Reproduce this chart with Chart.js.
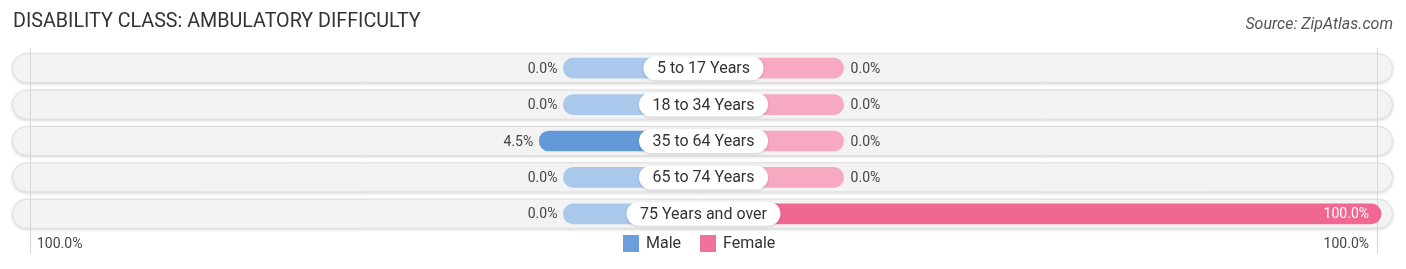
<!DOCTYPE html>
<html>
<head>
<meta charset="utf-8">
<title>Disability Class: Ambulatory Difficulty</title>
<script src="https://cdn.jsdelivr.net/npm/chart.js@4"></script>
<style>
    html, body { margin: 0; padding: 0; background: #fff; }
    #chart { display: block; }
</style>
</head>
<body>
<canvas id="chart" width="1406" height="269"></canvas>
<script>
const categories = ['5 to 17 Years', '18 to 34 Years', '35 to 64 Years', '65 to 74 Years', '75 Years and over'];
const maleValues = [0.0, 0.0, 4.5, 0.0, 0.0];
const femaleValues = [0.0, 0.0, 0.0, 0.0, 100.0];
const axisTicks = [-100, 100];
const axisTickLabels = ['100.0%', '100.0%'];

// bars always show a short stub, then grow with the value
const STUB = 20.8;
const GROW = (100.6 - STUB) / 100;

const COLORS = {
    maleLight: '#a9c8ec',
    maleDark: '#6399d8',
    femaleLight: '#f6a9c1',
    femaleDark: '#f06792',
    text: '#444',
    title: '#333'
};

const FONT = 'Roboto, "Open Sans", sans-serif';

function roundRect(ctx, x, y, w, h, r) {
    ctx.beginPath();
    ctx.moveTo(x + r, y);
    ctx.lineTo(x + w - r, y);
    ctx.arc(x + w - r, y + r, r, -Math.PI / 2, Math.PI / 2);
    ctx.lineTo(x + r, y + h);
    ctx.arc(x + r, y + r, r, Math.PI / 2, Math.PI * 1.5);
    ctx.closePath();
}

// Row backgrounds and the two axis lines at +-100%
const backgroundPlugin = {
    id: 'rowBackground',
    beforeDatasetsDraw(chart) {
        const { ctx, scales: { x, y } } = chart;
        ctx.save();
        categories.forEach((c, i) => {
            const cy = y.getPixelForValue(i);
            ctx.save();
            ctx.shadowColor = 'rgba(0,0,0,0.18)';
            ctx.shadowBlur = 3;
            ctx.shadowOffsetY = 1;
            roundRect(ctx, 12, cy - 15, 1381, 30, 15);
            ctx.fillStyle = '#f3f3f3';
            ctx.fill();
            ctx.restore();
            roundRect(ctx, 12.5, cy - 14.5, 1380, 29, 14.5);
            ctx.strokeStyle = '#dedede';
            ctx.lineWidth = 1;
            ctx.stroke();
        });
        ctx.strokeStyle = '#d6d6d6';
        ctx.lineWidth = 1;
        axisTicks.forEach(t => {
            const px = Math.round(x.getPixelForValue(t)) + 0.5;
            ctx.beginPath();
            ctx.moveTo(px, 48);
            ctx.lineTo(px, 253);
            ctx.stroke();
        });
        ctx.restore();
    }
};

// Category pills, value labels, axis labels, legend, title
const labelPlugin = {
    id: 'labels',
    afterDatasetsDraw(chart) {
        const { ctx, scales: { x, y } } = chart;
        const center = x.getPixelForValue(0);
        ctx.save();
        ctx.textBaseline = 'middle';

        categories.forEach((c, i) => {
            const cy = y.getPixelForValue(i);

            // male value
            const mEnd = x.getPixelForValue(-(STUB + maleValues[i] * GROW));
            ctx.font = '14px ' + FONT;
            ctx.fillStyle = COLORS.text;
            ctx.textAlign = 'right';
            ctx.fillText(maleValues[i].toFixed(1) + '%', mEnd - 6, cy + 1);

            // female value
            const fEnd = x.getPixelForValue(STUB + femaleValues[i] * GROW);
            if (femaleValues[i] > 50) {
                ctx.fillStyle = '#fff';
                ctx.textAlign = 'right';
                ctx.fillText(femaleValues[i].toFixed(1) + '%', fEnd - 12, cy + 1);
            } else {
                ctx.fillStyle = COLORS.text;
                ctx.textAlign = 'left';
                ctx.fillText(femaleValues[i].toFixed(1) + '%', fEnd + 7, cy + 1);
            }

            // category pill
            ctx.font = '16px ' + FONT;
            const tw = ctx.measureText(c).width;
            const pw = tw + 27;
            ctx.save();
            ctx.shadowColor = 'rgba(0,0,0,0.15)';
            ctx.shadowBlur = 3;
            ctx.shadowOffsetY = 1;
            roundRect(ctx, center - pw / 2, cy - 12, pw, 24, 12);
            ctx.fillStyle = '#fff';
            ctx.fill();
            ctx.restore();
            ctx.fillStyle = COLORS.title;
            ctx.textAlign = 'center';
            ctx.fillText(c, center, cy + 1);
        });

        // bottom axis labels
        ctx.font = '14px ' + FONT;
        ctx.fillStyle = COLORS.text;
        ctx.textAlign = 'left';
        ctx.fillText(axisTickLabels[0], x.getPixelForValue(axisTicks[0]) + 7, 244);
        ctx.textAlign = 'right';
        ctx.fillText(axisTickLabels[1], x.getPixelForValue(axisTicks[1]) - 8, 244);

        // legend
        const legend = [
            { label: 'Male', color: '#6a9fdc', x: 623 },
            { label: 'Female', color: '#f0729a', x: 700 }
        ];
        ctx.font = '16px ' + FONT;
        legend.forEach(l => {
            ctx.fillStyle = l.color;
            ctx.fillRect(l.x, 235, 16, 17);
            ctx.fillStyle = COLORS.title;
            ctx.textAlign = 'left';
            ctx.fillText(l.label, l.x + 23, 244);
        });

        // title and source
        ctx.font = '19.7px ' + FONT;
        ctx.fillStyle = COLORS.title;
        ctx.textAlign = 'left';
        ctx.fillText('DISABILITY CLASS: AMBULATORY DIFFICULTY', 13, 22);
        ctx.font = 'italic 16px ' + FONT;
        ctx.fillStyle = '#555';
        ctx.textAlign = 'right';
        ctx.fillText('Source: ZipAtlas.com', 1393, 25);

        ctx.restore();
    }
};

new Chart(document.getElementById('chart'), {
    type: 'bar',
    data: {
        labels: categories,
        datasets: [
            {
                label: 'Male',
                data: maleValues.map(v => [-(STUB + v * GROW), 0]),
                backgroundColor: maleValues.map(v => v > 0 ? COLORS.maleDark : COLORS.maleLight),
                clip: false
            },
            {
                label: 'Female',
                data: femaleValues.map(v => [0, STUB + v * GROW]),
                backgroundColor: femaleValues.map(v => v > 0 ? COLORS.femaleDark : COLORS.femaleLight),
                clip: false
            }
        ]
    },
    options: {
        indexAxis: 'y',
        responsive: false,
        animation: false,
        grouped: false,
        barThickness: 20,
        borderRadius: 10,
        borderSkipped: false,
        layout: {
            padding: { left: 30, right: 29, top: 50, bottom: 37 }
        },
        scales: {
            x: { display: false, min: -100, max: 100 },
            y: { display: false }
        },
        plugins: {
            legend: { display: false },
            tooltip: { enabled: false }
        }
    },
    plugins: [backgroundPlugin, labelPlugin]
});
</script>
</body>
</html>
